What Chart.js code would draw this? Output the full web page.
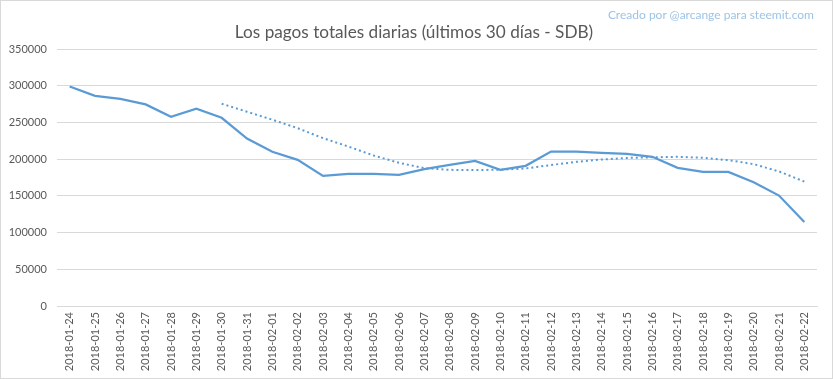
<!DOCTYPE html>
<html>
<head>
<meta charset="utf-8">
<script src="https://cdn.jsdelivr.net/npm/chart.js@4/dist/chart.umd.min.js"></script>
<style>
  html, body { margin: 0; padding: 0; background: #fff; }
  #wrap { position: relative; width: 833px; height: 379px; overflow: hidden; }
  #frame { position: absolute; left: 0; top: 0; width: 831px; height: 377px; border: 1px solid #d9d9d9; pointer-events: none; }
  #title { position: absolute; top: 21px; left: 0; width: 828px; text-align: center; font-family: Lato, "Open Sans", sans-serif; font-size: 17.2px; color: #595959; white-space: nowrap; }
  #credit { position: absolute; top: 7px; right: 19px; font-family: Lato, "Open Sans", sans-serif; font-size: 12px; color: #9dc3e6; white-space: nowrap; }
  canvas { position: absolute; left: 0; top: 0; }
</style>
</head>
<body>
<div id="wrap">
  <canvas id="c" width="833" height="379"></canvas>
  <div id="title">Los pagos totales diarias (últimos 30 días - SDB)</div>
  <div id="credit">Creado por @arcange para steemit.com</div>
  <div id="frame"></div>
</div>
<script>
const categories = ["2018-01-24","2018-01-25","2018-01-26","2018-01-27","2018-01-28","2018-01-29","2018-01-30","2018-01-31","2018-02-01","2018-02-02","2018-02-03","2018-02-04","2018-02-05","2018-02-06","2018-02-07","2018-02-08","2018-02-09","2018-02-10","2018-02-11","2018-02-12","2018-02-13","2018-02-14","2018-02-15","2018-02-16","2018-02-17","2018-02-18","2018-02-19","2018-02-20","2018-02-21","2018-02-22"];
const payouts = [299000,286300,282200,274500,257700,268600,256300,228100,210000,199100,177200,180000,179800,178600,186400,192200,197700,185400,190900,210400,210300,208600,207200,203200,188200,182700,182700,168600,150400,114500];
const trend = [null,null,null,null,null,null,275400,264500,253700,242200,228600,217200,205000,195000,187800,185400,185200,185600,187300,192000,196300,199500,201600,202500,203200,201800,198600,193200,183300,169500];
const yTicks = [0,50000,100000,150000,200000,250000,300000,350000];

const tickFont = { family: "Lato, 'Open Sans', sans-serif", size: 11 };
new Chart(document.getElementById('c'), {
  type: 'line',
  data: {
    labels: categories,
    datasets: [
      { data: payouts, borderColor: '#5b9bd5', borderWidth: 2.25, pointRadius: 0, tension: 0, fill: false },
      { data: trend, borderColor: '#5b9bd5', borderWidth: 2, borderDash: [2, 3], pointRadius: 0, tension: 0, fill: false, spanGaps: false }
    ]
  },
  options: {
    responsive: false,
    animation: false,
    events: [],
    layout: { padding: { left: 0, right: 16, top: 49, bottom: 0 } },
    plugins: { legend: { display: false }, title: { display: false }, tooltip: { enabled: false } },
    scales: {
      x: {
        offset: true,
        grid: { display: false, drawTicks: false },
        border: { display: true, color: '#d9d9d9' },
        ticks: { color: '#595959', font: tickFont, minRotation: 90, maxRotation: 90, padding: 6, autoSkip: false },
        afterFit: (s) => { s.height = 73; }
      },
      y: {
        min: 0, max: 350000,
        afterBuildTicks: (s) => { s.ticks = yTicks.map(v => ({ value: v })); },
        grid: { color: '#d9d9d9', drawTicks: false },
        border: { display: false },
        ticks: { color: '#595959', font: tickFont, padding: 10, callback: (v) => String(v) },
        afterFit: (s) => { s.width = 57; }
      }
    }
  }
});
</script>
</body>
</html>
